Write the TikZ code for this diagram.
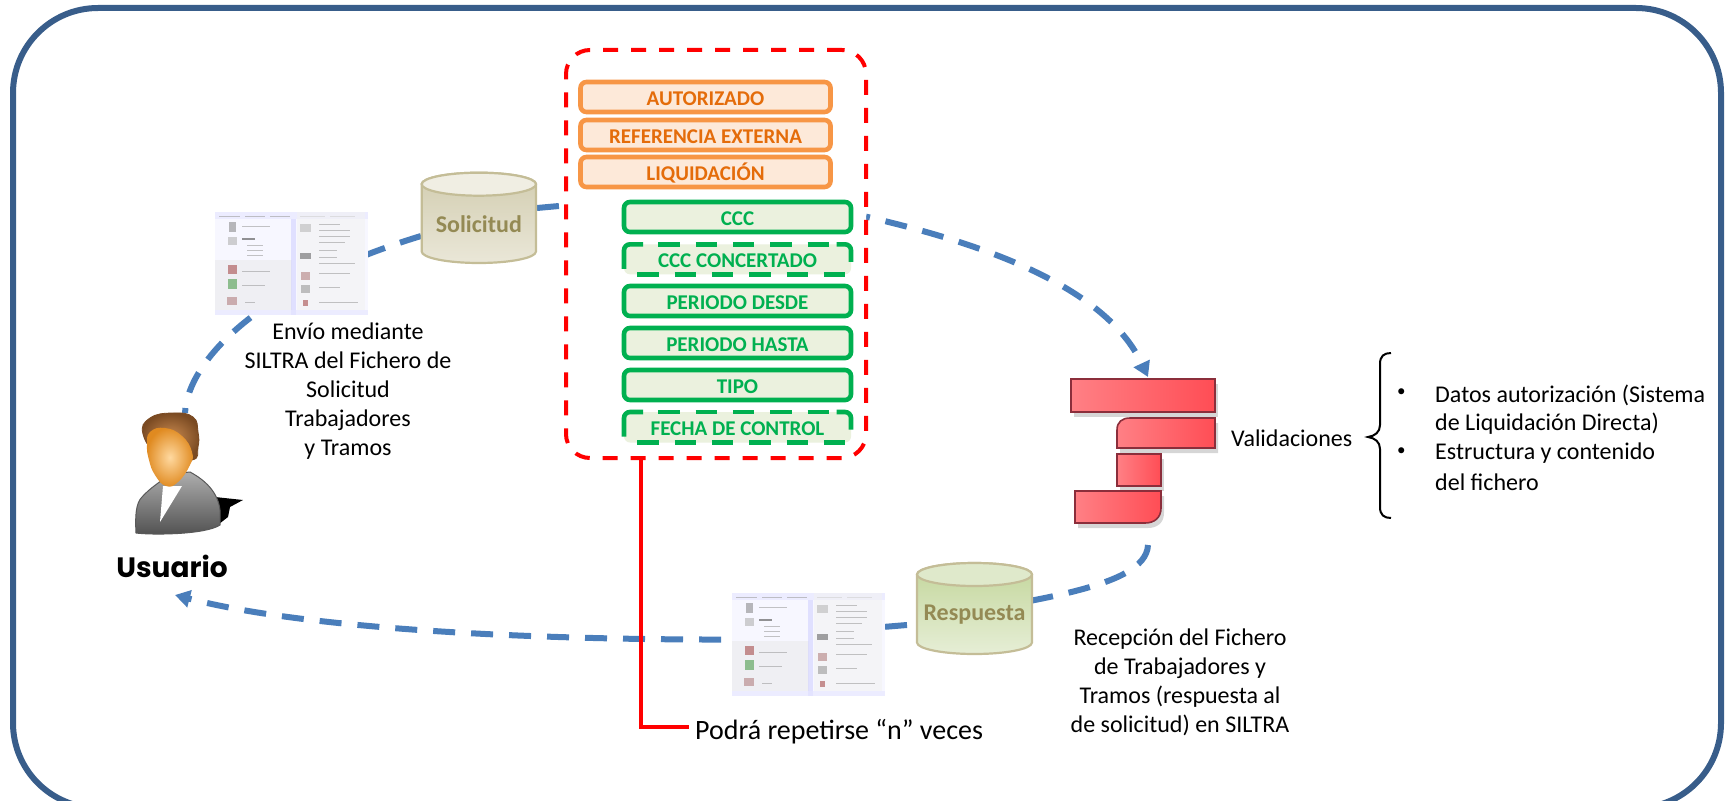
\documentclass[tikz,border=0pt]{standalone}
\usepackage{fontspec}
\setmainfont{Carlito}
\newfontfamily\popfont{Poppins}
\usetikzlibrary{arrows.meta,shadows,calc}
\definecolor{framec}{HTML}{385D8A}
\definecolor{flowc}{HTML}{4A7EBB}
\definecolor{orstroke}{HTML}{F79646}
\definecolor{orfill}{HTML}{FDE9D9}
\definecolor{ortext}{HTML}{E46C0A}
\definecolor{grstroke}{HTML}{00B050}
\definecolor{grfill}{HTML}{EBF1DE}
\definecolor{cyltext}{HTML}{948A54}
\definecolor{cylline}{HTML}{C4BD97}
\definecolor{barA}{HTML}{FF8085}
\definecolor{barB}{HTML}{FF4D55}
\definecolor{barline}{HTML}{8B2E3B}
\definecolor{solTop}{HTML}{F0EEE3}
\definecolor{solA}{HTML}{D2CDB0}
\definecolor{solB}{HTML}{EAE7D8}
\definecolor{resTop}{HTML}{DFE9CB}
\definecolor{resA}{HTML}{C3D69B}
\definecolor{resB}{HTML}{E6EED6}
\definecolor{faceA}{HTML}{FFD9A0}
\definecolor{faceB}{HTML}{E08A20}
\definecolor{hairA}{HTML}{C98A50}
\definecolor{hairB}{HTML}{7A4A22}
\tikzset{
  flow/.style={draw=flowc,line width=6pt,dash pattern=on 22pt off 16pt},
  flowtip/.style={-{Triangle[width=17pt,length=15pt]}},
  orbox/.style={draw=orstroke,fill=orfill,line width=4.6pt,rounded corners=6pt,minimum width=250pt,minimum height=30pt,inner sep=0pt,text=ortext,text height=17pt,text depth=0pt,font=\fontsize{21}{24}\selectfont\bfseries},
  grbox/.style={draw=grstroke,fill=grfill,line width=4.6pt,rounded corners=6pt,minimum width=227pt,minimum height=30pt,inner sep=0pt,text=grstroke,text height=17pt,text depth=0pt,font=\fontsize{21}{24}\selectfont\bfseries},
  grdash/.style={fill=grfill,rounded corners=6pt,minimum width=227pt,minimum height=30pt,inner sep=0pt,text=grstroke,text height=17pt,text depth=0pt,font=\fontsize{21}{24}\selectfont\bfseries},
  grseg/.style={draw=grstroke,line width=4.6pt},
  body/.style={font=\fontsize{24}{29}\selectfont,text=black,align=center,inner sep=0pt},
  listtext/.style={font=\fontsize{24}{29}\selectfont,text=black,align=left,inner sep=0pt,anchor=west},
  cyllabel/.style={font=\fontsize{24}{28}\selectfont\bfseries,text=cyltext,inner sep=0pt},
  bar/.style={draw=barline,line width=1.6pt,left color=barA,right color=barB,drop shadow={shadow xshift=3pt,shadow yshift=-5pt,fill=black!40,opacity=.4}},
  thumbline/.style={line width=1pt,draw=black!38},
}
% screen thumbnail, named #1, top-left corner at (#2,#3)
\newcommand{\thumbnail}[3]{%
  \node[minimum width=153pt,minimum height=103pt,inner sep=0pt,fill=blue!3!white,anchor=north west] (#1) at (#2,#3) {};
  \begin{scope}[shift={(#2,#3)},opacity=.6]
    \fill[blue!10!white] (0,0) rectangle (153,7);
    \draw[thumbline,line width=.8pt] (4,4) -- (25,4) (30,4) -- (50,4) (55,4) -- (75,4) (85,4) -- (110,4) (115,4) -- (140,4);
    \fill[black!8] (0,48) rectangle (77,98);
    \fill[black!5] (82,0) rectangle (150,98);
    \fill[blue!18!white] (76,7) rectangle (81,103);
    \fill[blue!10!white] (0,98) rectangle (153,103);
    \fill[black!45] (14,10) rectangle (21,20);
    \fill[black!30] (13,25) rectangle (22,33);
    \fill[red!50!black!70] (13,53) rectangle (22,62);
    \fill[green!45!black!70] (13,67) rectangle (22,77);
    \fill[red!40!black!50] (12,85) rectangle (22,93);
    \fill[black!28] (85,12) rectangle (96,20);
    \fill[black!60] (85,41) rectangle (96,47);
    \fill[red!40!black!50] (86,60) rectangle (95,68);
    \fill[black!40] (86,73) rectangle (95,81);
    \fill[red!50!black!70] (88,88) rectangle (93,94);
    \draw[thumbline] (27,14) -- (55,14) (27,59) -- (55,59) (27,73) -- (50,73) (30,90) -- (40,90)
      (32,33) -- (48,33) (32,38) -- (48,38) (32,43) -- (48,43)
      (104,12) -- (125,12) (104,18) -- (135,18) (104,24) -- (135,24) (104,30) -- (130,30)
      (104,38) -- (122,38) (104,45) -- (122,45) (104,51) -- (140,51) (104,61) -- (135,61) (104,75) -- (125,75) (104,90) -- (143,90);
    \draw[line width=1.2pt,black!70] (27,27) -- (40,27);
  \end{scope}}
% database cylinder, named #1
\newcommand{\dbcyl}[9]{% name,x1,y1,x2,y2,text,top face,body top,body bottom
  \path[draw=cylline,line width=2.2pt,top color=#8,bottom color=#9]
    (#2,#3+11.5) -- (#2,#5-11.5) arc[start angle=180,end angle=0,x radius={(#4-#2)/2},y radius=11.5] -- (#4,#3+11.5)
    arc[start angle=0,end angle=-180,x radius={(#4-#2)/2},y radius=11.5] -- cycle;
  \path[draw=cylline,line width=2.2pt,fill=#7] ({(#2+#4)/2},#3+11.5) ellipse[x radius={(#4-#2)/2},y radius=11.5];
  \node[cyllabel] (#1) at ({(#2+#4)/2},{(#3+#5)/2+6}) {#6};}
% dashed green field
\newcommand{\dashfield}[4]{% name,y top,y bottom,text
  \node[grdash,minimum height=#3pt-#2pt] (#1) at (737.5,{(#2+#3)/2}) {#4};
  \draw[grseg] (624,#2+24.5) -- (624,#2+6) arc[start angle=180,end angle=270,radius=6] -- (643,#2);
  \foreach \i in {0,...,4} \draw[grseg] ({658.3+37.3*\i},#2) -- ++(21.4,0);
  \draw[grseg] (836.7,#2) -- (845,#2) arc[start angle=270,end angle=360,radius=6] -- (851,#2+17.5);
  \foreach \i in {0,...,5} \draw[grseg] ({637.3+37.3*\i},#3) -- ++(21.4,0);}
\begin{document}
\begin{tikzpicture}[x=1pt,y=-1pt]
\useasboundingbox (0,0) rectangle (1728,800);
\draw[framec,line width=6pt,rounded corners=85pt] (13,8) rectangle (1721,808);

% anchor points of the flows
\coordinate (userTop) at (185,413);
\coordinate (solL) at (421,236);
\coordinate (solR) at (537,208);
\coordinate (redIn) at (570,205);
\coordinate (redOut) at (866,216.6);
\coordinate (valTop) at (1148,377);
\coordinate (valBot) at (1148,545);
\coordinate (respR) at (925,621);
\coordinate (respL) at (907,625);
\coordinate (thumbL) at (732,639.5);
\coordinate (userBot) at (175,595);

% flows
\draw[flow] (solL) .. controls (260,285) and (188,360) .. (userTop);
\draw[flow] (solR) -- (redIn);
\draw[flow,flowtip,dash phase=18pt] (redOut) .. controls (980,243) and (1105,285) .. (valTop);
\draw[flow] (valBot) .. controls (1146,590) and (1020,600) .. (respR);
\draw[flow] (respL) -- (thumbL);
\draw[flow,flowtip,dash phase=27pt] (thumbL) .. controls (540,640) and (310,630) .. (userBot);

% thumbnails
\thumbnail{screenA}{215}{212}
\thumbnail{screenB}{732}{593}

% cylinders
\dbcyl{solicitud}{421.7}{172.7}{536}{263}{Solicitud}{solTop}{solA}{solB}
\dbcyl{respuesta}{917}{563}{1032}{654}{Respuesta}{resTop}{resA}{resB}

% red dashed group
\coordinate (groupBot) at (641,458);
\coordinate (noteCorner) at (641,727);
\coordinate (noteEnd) at (689,727);
\node[draw=red,fill=white,line width=4pt,rounded corners=24pt,dash pattern=on 15pt off 13pt,minimum width=300pt,minimum height=408pt,inner sep=0pt] (group) at (716,254) {};
\draw[red,line width=4pt] (groupBot) -- (noteCorner) -- (noteEnd);
\node[font=\fontsize{28}{32}\selectfont,inner sep=0pt,anchor=west] (note) at (695,732) {Podrá repetirse “n” veces};

% orange fields
\node[orbox] (autorizado) at (705.5,97) {AUTORIZADO};
\node[orbox] (referencia) at (705.5,135) {REFERENCIA EXTERNA};
\node[orbox] (liquidacion) at (705.5,172) {LIQUIDACIÓN};

% green fields
\node[grbox] (ccc) at (737.5,217) {CCC};
\dashfield{concertado}{244.3}{274.3}{CCC CONCERTADO}
\node[grbox] (desde) at (737.5,301) {PERIODO DESDE};
\node[grbox] (hasta) at (737.5,343) {PERIODO HASTA};
\node[grbox] (tipo) at (737.5,385) {TIPO};
\dashfield{fecha}{412}{442.5}{FECHA DE CONTROL}

% validation icon
\path[bar] (1071,379) rectangle (1215,412);
\path[bar] (1117,448) -- (1117,430) .. controls (1117,422) and (1122,418) .. (1130,418) -- (1215,418) -- (1215,448) -- cycle;
\path[bar] (1117,454) rectangle (1161,486);
\path[bar] (1075,491) -- (1161,491) -- (1161,508) .. controls (1161,518) and (1154,523) .. (1145,523) -- (1075,523) -- cycle;

% user figure
\node[minimum width=108pt,minimum height=120pt,inner sep=0pt] (user) at (178,473) {};
\fill[black] (215,497) -- (243,500) -- (230,507) -- (228,517) -- (219,524) -- cycle;
\path[top color=black!32,bottom color=black!68,draw=black!65,line width=1pt] (136,533) .. controls (135,515) and (136,503) .. (142,497) .. controls (150,488) and (160,482) .. (170,474) -- (190,472) .. controls (205,480) and (218,492) .. (220,510) -- (220,525) .. controls (205,535) and (150,535) .. (136,533) -- cycle;
\fill[white] (163,486) -- (182,486) -- (160,522) -- cycle;
\path[draw=hairB,line width=.8pt,inner color=hairA,outer color=hairB] plot[smooth cycle,tension=.8] coordinates {(143,434) (150,418) (173,413) (193,417) (198,432) (198,447) (192,460) (160,455)};
\path[inner color=faceA,outer color=faceB] plot[smooth cycle,tension=.8] coordinates {(147,445) (150,432) (165,428) (182,436) (192,452) (190,465) (178,482) (166,486) (155,475) (149,460)};

% texts
\node[font=\fontsize{28}{32}\selectfont\popfont\bfseries,inner sep=0pt] (usuario) at (172,566) {Usuario};
\node[body] (envio) at (348,391) {Envío mediante\\SILTRA del Fichero de\\Solicitud\\Trabajadores\\y Tramos};
\node[body] (recepcion) at (1180,682) {Recepción del Fichero\\de Trabajadores y\\Tramos (respuesta al\\de solicitud) en SILTRA};
\node[body,anchor=west] (validaciones) at (1231,438) {Validaciones};

% brace
\coordinate (braceTop) at (1391,353);
\coordinate (braceTip) at (1368,437);
\coordinate (braceBot) at (1391,518);
\draw[black,line width=2pt] (braceTop) .. controls (1384,353) and (1380,356) .. (1380,364) -- (1380,425) .. controls (1380,432) and (1375,436) .. (braceTip) .. controls (1375,438) and (1380,442) .. (1380,449) -- (1380,507) .. controls (1380,515) and (1384,518) .. (braceBot);

% list
\node[listtext,font=\fontsize{17}{20}\selectfont] (bulA) at (1397,393) {•};
\node[listtext,font=\fontsize{17}{20}\selectfont] (bulB) at (1397,452) {•};
\node[listtext] (lineA) at (1435,395) {Datos autorización (Sistema};
\node[listtext] (lineB) at (1435,424) {de Liquidación Directa)};
\node[listtext] (lineC) at (1435,453) {Estructura y contenido};
\node[listtext] (lineD) at (1435,482) {del fichero};
\end{tikzpicture}
\end{document}
